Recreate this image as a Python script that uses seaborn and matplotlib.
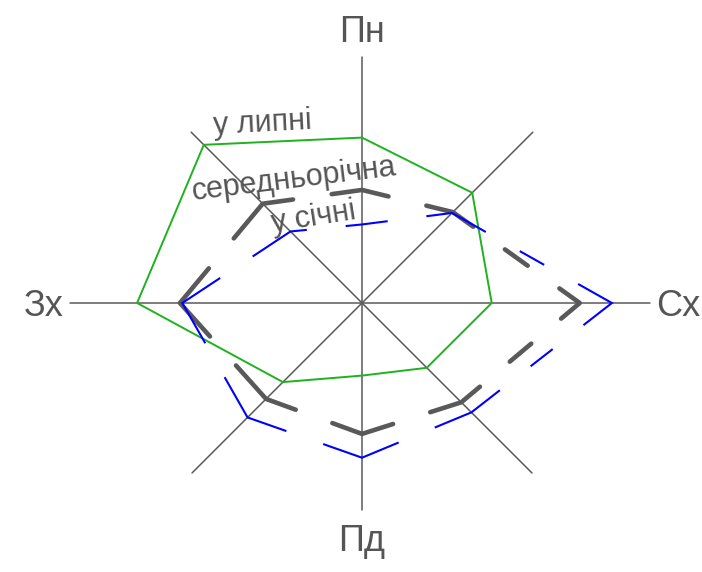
import numpy as np
import pandas as pd
import seaborn as sns
import matplotlib.pyplot as plt

# Wind rose: repeat frequency of wind directions, %
directions = ['Пн', 'ПнСх', 'Сх', 'ПдСх', 'Пд', 'ПдЗх', 'Зх', 'ПнЗх']
angles_deg = [90, 45, 0, -45, -90, -135, 180, 135]
july = [13.9, 13.1, 10.9, 7.7, 6.1, 9.4, 18.9, 18.8]
annual = [9.5, 10.8, 18.3, 11.8, 11.0, 11.4, 15.3, 11.8]
january = [6.6, 10.7, 21.0, 13.0, 13.0, 13.6, 15.1, 8.5]

axis_labels = ['Пн', 'Сх', 'Пд', 'Зх']
axis_len = [20.7, 20.3, 24.2, 20.2, 17.4, 20.2, 24.5, 20.3]

sns.set_theme(style='white')
plt.rcParams['font.family'] = ['Liberation Sans', 'DejaVu Sans']

SCALE = 11.9  # px per %
fig = plt.figure(figsize=(7.02, 5.72), dpi=100)
ax = fig.add_axes([0, 0, 1, 1])
ax.set_xlim(-362 / SCALE, 340 / SCALE)
ax.set_ylim(-269 / SCALE, 303 / SCALE)
ax.axis('off')

ang = np.deg2rad(angles_deg)

# compass axes
for a, L in zip(ang, axis_len):
    ax.plot([0, L * np.cos(a)], [0, L * np.sin(a)], color='#5a5a5a', lw=1.1, zorder=1)


def polygon(values):
    r = np.array(values)
    return np.c_[r * np.cos(ang), r * np.sin(ang)]


def dash_segments(values, dash=28 / SCALE, gap=39 / SCALE):
    # dashes centred on every vertex, evenly spaced dashes along each edge
    pts = polygon(values)
    n = len(pts)
    rows = []
    seg = 0
    arms = []
    for i in range(n):
        p, q = pts[i], pts[(i + 1) % n]
        L = np.hypot(*(q - p))
        u = (q - p) / L
        k = max(0, int(round((L - gap) / (dash + gap))) - 1)
        arm = max((L - k * dash - (k + 1) * gap) / 2, 0.8)
        g = (L - 2 * arm - k * dash) / (k + 1)
        arms.append((p + u * arm, q - u * arm))
        for j in range(k):
            s = arm + g + j * (dash + g)
            for t in (s, s + dash):
                x, y = p + u * t
                rows.append((x, y, seg))
            seg += 1
    for i in range(n):
        a_in = arms[i - 1][1]
        a_out = arms[i][0]
        for x, y in (a_in, pts[i], a_out):
            rows.append((x, y, seg))
        seg += 1
    return pd.DataFrame(rows, columns=['x', 'y', 'seg'])


# July: solid green polygon
pj = polygon(july)
df_july = pd.DataFrame({'x': np.r_[pj[:, 0], pj[0, 0]], 'y': np.r_[pj[:, 1], pj[0, 1]]})
sns.lineplot(data=df_july, x='x', y='y', sort=False, estimator=None,
             color='#1fb21f', lw=1.4, ax=ax, zorder=2)

# annual average: thick grey dashes
sns.lineplot(data=dash_segments(annual), x='x', y='y', units='seg', sort=False,
             estimator=None, color='#595959', lw=3.3, ax=ax, zorder=3,
             solid_capstyle='round', solid_joinstyle='round')

# January: thin blue dashes
sns.lineplot(data=dash_segments(january), x='x', y='y', units='seg', sort=False,
             estimator=None, color='#0000ff', lw=1.5, ax=ax, zorder=4,
             solid_capstyle='butt', solid_joinstyle='miter')

txt = dict(color='#555555', ha='center', va='baseline', rotation_mode='anchor')
ax.text(0, 21.9, 'Пн', fontsize=26, **txt)
ax.text(0, -20.8, 'Пд', fontsize=26, **txt)
ax.text(-26.7, -1.07, 'Зх', fontsize=26, **txt)
ax.text(26.6, -1.07, 'Сх', fontsize=26, **txt)

ax.text(-8.3, 14.4, 'у липні', fontsize=22, rotation=3, **txt)
ax.text(-5.6, 9.7, 'середньорічна', fontsize=22, rotation=7, **txt)
ax.text(-3.95, 6.55, 'у січні', fontsize=22, rotation=9, **txt)

ax.set_xlabel('')
ax.set_ylabel('')
fig.savefig('out.png', dpi=100)
